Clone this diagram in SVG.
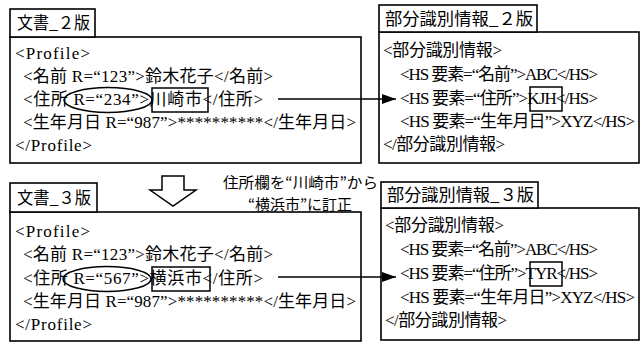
<svg xmlns="http://www.w3.org/2000/svg" width="642" height="343" viewBox="0 0 642 343">
<style>
  .box{fill:#fff;stroke:#000;stroke-width:1.6}
  .mark{fill:none;stroke:#000;stroke-width:1.5}
  .t{font-family:"Liberation Serif","Noto Sans CJK JP",serif;font-size:17px;fill:#000}
  .ttl{font-family:"Noto Sans CJK JP","Liberation Serif",sans-serif;font-size:17px;fill:#000}
  .note{font-family:"Noto Sans CJK JP",sans-serif;font-size:15px;fill:#000}
  .conn{fill:none;stroke:#000;stroke-width:1.5}
</style>
<defs>
  <marker id="ah" viewBox="0 0 14 10" refX="14" refY="5" markerWidth="14" markerHeight="10" markerUnits="userSpaceOnUse" orient="auto">
    <path d="M0,0 L14,5 L0,10 Z" fill="#000"/>
  </marker>
</defs>
<rect width="642" height="343" fill="#fff"/>

<g id="doc2">
  <rect class="box" x="10" y="37" width="351" height="126"/>
  <rect class="box" x="10" y="9" width="85" height="28"/>
  <text class="ttl" x="17" y="29" textLength="73" lengthAdjust="spacingAndGlyphs">文書_２版</text>
  <text class="t" x="15" y="59" textLength="75">&lt;Profile&gt;</text>
  <text class="t" x="23" y="82" textLength="250">&lt;名前 R=“123”&gt;鈴木花子&lt;/名前&gt;</text>
  <text class="t" x="23" y="105" textLength="240">&lt;住所 R=“234”&gt;川崎市&lt;/住所&gt;</text>
  <text class="t" x="23" y="128" textLength="333">&lt;生年月日 R=“987”&gt;**********&lt;/生年月日&gt;</text>
  <text class="t" x="15" y="151" textLength="77">&lt;/Profile&gt;</text>
  <ellipse class="mark" cx="108" cy="100" rx="44" ry="12.5"/>
  <rect class="mark" x="152" y="88" width="56" height="24"/>
</g>

<g id="part2">
  <rect class="box" x="379" y="32" width="260" height="131"/>
  <rect class="box" x="379" y="5" width="158" height="27"/>
  <text class="ttl" x="385" y="25" textLength="148" lengthAdjust="spacingAndGlyphs">部分識別情報_２版</text>
  <text class="t" x="383" y="56" textLength="119">&lt;部分識別情報&gt;</text>
  <text class="t" x="400" y="80" textLength="198">&lt;HS 要素=“名前”&gt;ABC&lt;/HS&gt;</text>
  <text class="t" x="400" y="104" textLength="198">&lt;HS 要素=“住所”&gt;KJH&lt;/HS&gt;</text>
  <text class="t" x="400" y="127" textLength="235">&lt;HS 要素=“生年月日”&gt;XYZ&lt;/HS&gt;</text>
  <text class="t" x="383" y="150" textLength="122">&lt;/部分識別情報&gt;</text>
  <rect class="mark" x="530" y="87" width="32" height="24"/>
</g>

<g id="doc3">
  <rect class="box" x="10" y="212" width="351" height="129"/>
  <rect class="box" x="10" y="183" width="87" height="29"/>
  <text class="ttl" x="17" y="204" textLength="74" lengthAdjust="spacingAndGlyphs">文書_３版</text>
  <text class="t" x="15" y="237" textLength="75">&lt;Profile&gt;</text>
  <text class="t" x="23" y="260" textLength="250">&lt;名前 R=“123”&gt;鈴木花子&lt;/名前&gt;</text>
  <text class="t" x="23" y="284" textLength="240">&lt;住所 R=“567”&gt;横浜市&lt;/住所&gt;</text>
  <text class="t" x="23" y="307" textLength="333">&lt;生年月日 R=“987”&gt;**********&lt;/生年月日&gt;</text>
  <text class="t" x="15" y="330" textLength="77">&lt;/Profile&gt;</text>
  <ellipse class="mark" cx="107" cy="279" rx="44" ry="12.5"/>
  <rect class="mark" x="152" y="267" width="58" height="24"/>
</g>

<g id="part3">
  <rect class="box" x="381" y="208" width="258" height="132"/>
  <rect class="box" x="381" y="182" width="157" height="26"/>
  <text class="ttl" x="387" y="201" textLength="147" lengthAdjust="spacingAndGlyphs">部分識別情報_３版</text>
  <text class="t" x="385" y="231" textLength="119">&lt;部分識別情報&gt;</text>
  <text class="t" x="400" y="255" textLength="198">&lt;HS 要素=“名前”&gt;ABC&lt;/HS&gt;</text>
  <text class="t" x="400" y="279" textLength="198">&lt;HS 要素=“住所”&gt;TYR&lt;/HS&gt;</text>
  <text class="t" x="400" y="303" textLength="235">&lt;HS 要素=“生年月日”&gt;XYZ&lt;/HS&gt;</text>
  <text class="t" x="385" y="326" textLength="122">&lt;/部分識別情報&gt;</text>
  <rect class="mark" x="530" y="262" width="32" height="24"/>
</g>

<g id="revision">
  <path d="M162,176 L184,176 L184,190 L196,190 L173,206 L150,190 L162,190 Z" fill="#fff" stroke="#000" stroke-width="1.5" stroke-linejoin="miter"/>
  <text class="note" x="223" y="188" textLength="155" lengthAdjust="spacingAndGlyphs">住所欄を“川崎市”から</text>
  <text class="note" x="248" y="210" textLength="104" lengthAdjust="spacingAndGlyphs">“横浜市”に訂正</text>
</g>

<g id="connectors">
  <line class="conn" x1="278" y1="99" x2="396" y2="99" marker-end="url(#ah)"/>
  <line class="conn" x1="278" y1="277" x2="396" y2="277" marker-end="url(#ah)"/>
</g>
</svg>
